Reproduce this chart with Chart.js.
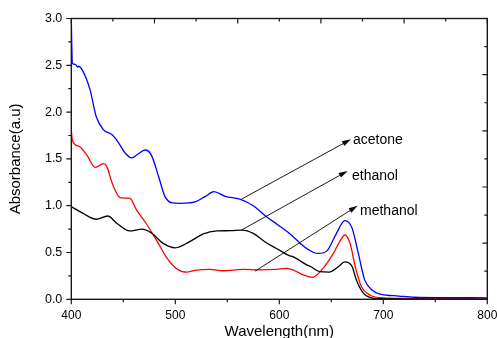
<!DOCTYPE html>
<html>
<head>
<meta charset="utf-8">
<script src="https://cdn.jsdelivr.net/npm/chart.js@4/dist/chart.umd.min.js"></script>
<style>
html,body{margin:0;padding:0;background:#fff;}
#c{display:block;}
</style>
</head>
<body>
<canvas id="c" width="497" height="338"></canvas>
<script>
// ---- data ----
const seriesNames = ['acetone', 'ethanol', 'methanol'];

const wlAcetone  = [400, 400.5, 401, 404, 406, 407, 411, 418, 424, 431, 439, 445, 452, 458, 464, 471, 477, 484, 490, 497, 505, 519, 529, 537, 548, 562, 575, 588, 598, 609, 620, 626, 633, 638, 646, 655, 663, 670, 676, 682, 689, 697, 715, 730, 760, 800];
const absAcetone = [3.0, 2.70, 2.52, 2.51, 2.48, 2.49, 2.44, 2.24, 1.95, 1.81, 1.76, 1.68, 1.56, 1.51, 1.55, 1.595, 1.54, 1.31, 1.10, 1.03, 1.025, 1.04, 1.10, 1.15, 1.10, 1.07, 1.00, 0.88, 0.80, 0.71, 0.60, 0.545, 0.50, 0.49, 0.52, 0.705, 0.84, 0.76, 0.49, 0.21, 0.10, 0.055, 0.035, 0.022, 0.018, 0.016];

const wlEthanol  = [400, 411, 424, 435, 444, 456, 468, 477, 488, 500, 513, 527, 540, 553, 564, 575, 586, 597, 609, 614, 626, 630, 639, 648, 657, 663, 670, 674, 681, 687, 697, 800];
const absEthanol = [0.99, 0.92, 0.855, 0.89, 0.81, 0.73, 0.75, 0.71, 0.60, 0.55, 0.61, 0.70, 0.73, 0.733, 0.74, 0.705, 0.615, 0.545, 0.47, 0.45, 0.37, 0.35, 0.295, 0.29, 0.35, 0.40, 0.35, 0.21, 0.064, 0.02, 0.006, 0.0];

const wlMethanol  = [400, 401, 408, 415, 423, 431, 434, 440, 447, 452, 456, 463, 472, 482, 492, 501, 511, 519, 533, 546, 565, 581, 597, 607, 614, 623, 632, 642, 652, 658, 663, 668, 673, 679, 687, 697, 715, 800];
const absMethanol = [1.81, 1.70, 1.63, 1.54, 1.41, 1.45, 1.42, 1.22, 1.085, 1.08, 1.08, 0.95, 0.81, 0.63, 0.44, 0.33, 0.29, 0.31, 0.32, 0.305, 0.32, 0.315, 0.32, 0.33, 0.31, 0.26, 0.235, 0.33, 0.49, 0.615, 0.687, 0.60, 0.35, 0.135, 0.046, 0.017, 0.01, 0.006];

// x tick labels / y tick labels
const xTickValues = [400, 500, 600, 700, 800];
const yTickValues = [0.0, 0.5, 1.0, 1.5, 2.0, 2.5, 3.0];

// annotation arrows (data coordinates) : acetone, ethanol, methanol
const arrowFromX = [563.8, 563.8, 576.6];
const arrowFromY = [1.071, 0.741, 0.300];
const arrowToX   = [668.9, 665.7, 675.3];
const arrowToY   = [1.709, 1.371, 1.000];
const labelX     = [670.9, 669.9, 677.6];
const labelY     = [1.700, 1.317, 0.943];

const xTitle = 'Wavelength(nm)';
const yTitle = 'Absorbance(a.u)';

// ---- helpers ----
function pts(xs, ys) { return xs.map((x, i) => ({ x: x, y: ys[i] })); }
const FONT = "'Liberation Sans', Arial, Helvetica, sans-serif";

const framePlugin = {
  id: 'frame',
  afterDraw(chart) {
    const ctx = chart.ctx;
    const a = chart.chartArea;
    const xs = chart.scales.x, ys = chart.scales.y;
    ctx.save();
    ctx.strokeStyle = '#1a1a1a';
    ctx.lineWidth = 1.4;
    ctx.strokeRect(a.left, a.top, a.right - a.left, a.bottom - a.top);
    ctx.lineWidth = 1.2;
    ctx.beginPath();
    // bottom axis: outward, major 100, minor 50
    for (let v = 400; v <= 800; v += 50) {
      const p = xs.getPixelForValue(v);
      const len = (v % 100 === 0) ? 5 : 3;
      ctx.moveTo(p, a.bottom); ctx.lineTo(p, a.bottom + len);
    }
    // left axis: outward, major 0.5, minor 0.25
    for (let k = 0; k <= 12; k++) {
      const v = k * 0.25;
      const p = ys.getPixelForValue(v);
      const len = (k % 2 === 0) ? 5 : 3;
      ctx.moveTo(a.left, p); ctx.lineTo(a.left - len, p);
    }
    // top axis: inward, 10 divisions
    for (let k = 0; k <= 10; k++) {
      const p = a.left + (a.right - a.left) * k / 10;
      const len = (k % 2 === 0) ? 5 : 3;
      ctx.moveTo(p, a.top); ctx.lineTo(p, a.top + len);
    }
    // right axis: inward, 10 divisions
    for (let k = 0; k <= 10; k++) {
      const p = a.bottom - (a.bottom - a.top) * k / 10;
      const len = (k % 2 === 0) ? 5 : 3;
      ctx.moveTo(a.right, p); ctx.lineTo(a.right - len, p);
    }
    ctx.stroke();

    // arrows and labels
    ctx.strokeStyle = '#000';
    ctx.fillStyle = '#000';
    ctx.lineWidth = 0.9;
    for (let i = 0; i < seriesNames.length; i++) {
      const x1 = xs.getPixelForValue(arrowFromX[i]), y1 = ys.getPixelForValue(arrowFromY[i]);
      const x2 = xs.getPixelForValue(arrowToX[i]),   y2 = ys.getPixelForValue(arrowToY[i]);
      const ang = Math.atan2(y2 - y1, x2 - x1);
      const hl = 9, hw = 2.6;
      const bx = x2 - hl * Math.cos(ang), by = y2 - hl * Math.sin(ang);
      ctx.beginPath();
      ctx.moveTo(x1, y1); ctx.lineTo(bx, by);
      ctx.stroke();
      ctx.beginPath();
      ctx.moveTo(x2, y2);
      ctx.lineTo(bx - hw * Math.sin(ang), by + hw * Math.cos(ang));
      ctx.lineTo(bx + hw * Math.sin(ang), by - hw * Math.cos(ang));
      ctx.closePath();
      ctx.fill();
      ctx.font = '14px ' + FONT;
      ctx.textAlign = 'left';
      ctx.textBaseline = 'middle';
      ctx.fillText(seriesNames[i], xs.getPixelForValue(labelX[i]), ys.getPixelForValue(labelY[i]));
    }

    // axis titles
    ctx.font = '15px ' + FONT;
    ctx.textAlign = 'center';
    ctx.textBaseline = 'middle';
    ctx.fillText(xTitle, (a.left + a.right) / 2, 332);
    ctx.save();
    ctx.translate(16, (a.top + a.bottom) / 2);
    ctx.rotate(-Math.PI / 2);
    ctx.fillText(yTitle, 0, 0);
    ctx.restore();
    ctx.restore();
  }
};

new Chart(document.getElementById('c'), {
  type: 'line',
  data: {
    datasets: [
      { label: seriesNames[0], data: pts(wlAcetone, absAcetone), borderColor: '#0000ff' },
      { label: seriesNames[1], data: pts(wlEthanol, absEthanol), borderColor: '#000000' },
      { label: seriesNames[2], data: pts(wlMethanol, absMethanol), borderColor: '#ff0000' }
    ]
  },
  options: {
    responsive: false,
    animation: false,
    devicePixelRatio: 1,
    layout: { padding: { top: 18.5, right: 9.7, bottom: 0, left: 0 } },
    elements: {
      point: { radius: 0 },
      line: { borderWidth: 1.3, cubicInterpolationMode: 'monotone', fill: false }
    },
    plugins: { legend: { display: false }, tooltip: { enabled: false } },
    scales: {
      x: {
        type: 'linear', min: 400, max: 800,
        afterBuildTicks(s) { s.ticks = xTickValues.map(v => ({ value: v })); },
        afterFit(s) { s.height = 38.7; s.paddingLeft = 0; s.paddingRight = 0; },
        grid: { display: false, drawTicks: false },
        border: { display: false },
        ticks: { padding: 9, color: '#000', font: { size: 12, family: FONT }, maxRotation: 0, autoSkip: false }
      },
      y: {
        type: 'linear', min: 0, max: 3,
        afterBuildTicks(s) { s.ticks = yTickValues.map(v => ({ value: v })); },
        afterFit(s) { s.width = 71.3; s.paddingTop = 0; s.paddingBottom = 0; },
        grid: { display: false, drawTicks: false },
        border: { display: false },
        ticks: { padding: 9, color: '#000', font: { size: 12.5, family: FONT }, callback: v => v.toFixed(1) }
      }
    }
  },
  plugins: [framePlugin]
});
</script>
</body>
</html>
